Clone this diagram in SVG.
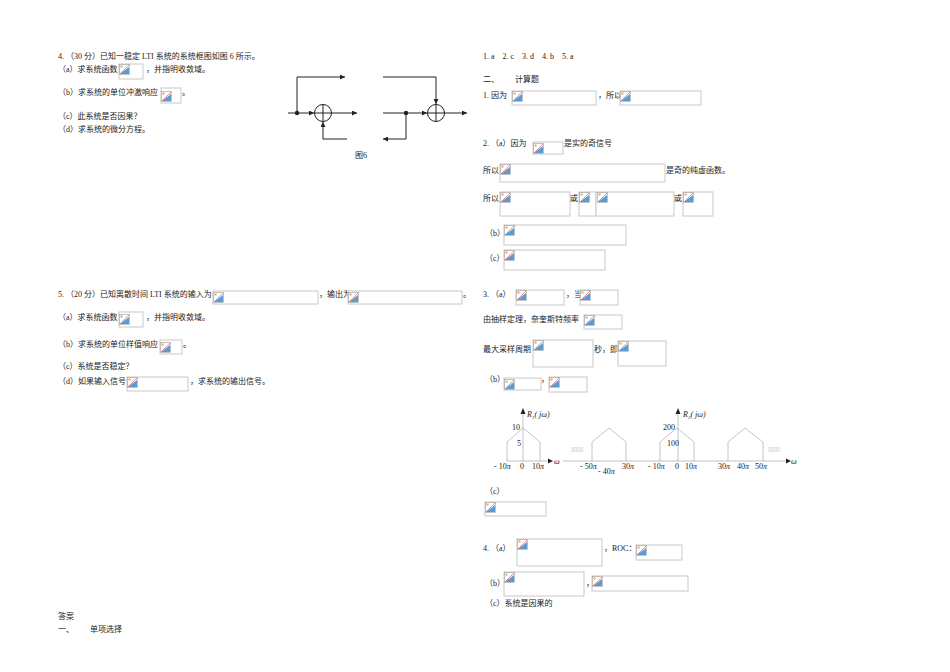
<svg xmlns="http://www.w3.org/2000/svg" width="950" height="672" viewBox="0 0 950 672">
<style>
text{font-family:"Liberation Serif","Noto Sans CJK SC",serif;font-size:8px;fill:#222}
.it{font-style:italic}
.b{fill:#fff;stroke:#c8c8c8;stroke-width:1}
.ln{stroke:#222;stroke-width:1;fill:none}
.sp{stroke:#aaa;stroke-width:0.7;fill:none}
.tofu{fill:#aaa;font-size:6px}
</style>
<defs>
<marker id="ar" viewBox="0 0 6 6" refX="6" refY="3" markerWidth="5" markerHeight="5" orient="auto"><path d="M0,0L6,3L0,6z" fill="#222"/></marker>
<g id="ic"><rect x="0.5" y="0.5" width="10" height="10" fill="#fff" stroke="#999" stroke-width="0.6"/><path d="M1,10 L10,3 L10,10z" fill="#5a9bd5"/><path d="M1,10 L10,1" stroke="#e07070" stroke-width="0.8"/><rect x="1.5" y="1.5" width="2" height="2" fill="#f0a050"/></g>
</defs>
<rect width="950" height="672" fill="#fff"/>

<g id="q4">
<text x="58" y="59">4. （30 分）已知一稳定 LTI 系统的系统框图如图 6 所示。</text>
<text x="58" y="72">（a）求系统函数</text><rect class="b" x="119" y="64" width="24" height="15"/><use href="#ic" x="119" y="64"/><text x="146" y="72">，并指明收敛域。</text>
<text x="58" y="95">（b）求系统的单位冲激响应</text><rect class="b" x="161" y="88" width="20" height="15"/><use href="#ic" x="161" y="91"/><text x="182" y="95">。</text>
<text x="58" y="119">（c）此系统是否因果？</text>
<text x="58" y="132">（d）求系统的微分方程。</text>
</g>

<g id="fig6">
<circle cx="323" cy="113" r="8.5" class="ln"/><path class="ln" d="M314.5,113H331.5M323,104.5V121.5"/>
<circle cx="436" cy="113" r="8.5" class="ln"/><path class="ln" d="M427.5,113H444.5M436,104.5V121.5"/>
<circle cx="297" cy="113" r="2.2" fill="#222"/><circle cx="406" cy="113" r="2.2" fill="#222"/>
<text x="355" y="158">图6</text>
</g>
<g id="connectors">
<path class="ln" d="M288,113H314" marker-end="url(#ar)"/>
<path class="ln" d="M297,113V77H345" marker-end="url(#ar)"/>
<path class="ln" d="M332,113H357" marker-end="url(#ar)"/>
<path class="ln" d="M347,139H323V122" marker-end="url(#ar)"/>
<path class="ln" d="M383,77H436V104" marker-end="url(#ar)"/>
<path class="ln" d="M383,113H427" marker-end="url(#ar)"/>
<path class="ln" d="M445,113H467" marker-end="url(#ar)"/>
<path class="ln" d="M406,113V139H383" marker-end="url(#ar)"/>
</g>

<g id="q5">
<text x="58" y="297">5. （20 分）已知离散时间 LTI 系统的输入为</text><rect class="b" x="213" y="291" width="105" height="13"/><use href="#ic" x="213" y="292"/>
<text x="319" y="297">，输出为</text><rect class="b" x="348" y="291" width="114" height="13"/><use href="#ic" x="348" y="292"/><text x="463" y="297">。</text>
<text x="58" y="320">（a）求系统函数</text><rect class="b" x="119" y="312" width="24" height="15"/><use href="#ic" x="119" y="314"/><text x="146" y="320">，并指明收敛域。</text>
<text x="58" y="347">（b）求系统的单位样值响应</text><rect class="b" x="160" y="340" width="22" height="14"/><use href="#ic" x="160" y="342"/><text x="183" y="347">。</text>
<text x="58" y="369">（c）系统是否稳定？</text>
<text x="58" y="384">（d）如果输入信号</text><rect class="b" x="127" y="377" width="61" height="14"/><use href="#ic" x="127" y="377"/><text x="190" y="384">，求系统的输出信号。</text>
<text x="58" y="619">答案</text>
<text x="58" y="632" xml:space="preserve">一、        单项选择</text>
</g>

<g id="ans">
<text x="483" y="59" xml:space="preserve">1. a    2. c    3. d    4. b    5. a</text>
<text x="483" y="82" xml:space="preserve">二、        计算题</text>
<text x="483" y="98">1. 因为</text><rect class="b" x="512" y="91" width="84" height="14"/><use href="#ic" x="512" y="91"/><text x="598" y="98">，所以</text><rect class="b" x="620" y="91" width="81" height="14"/><use href="#ic" x="620" y="91"/>
<text x="483" y="146">2. （a）因为</text><rect class="b" x="533" y="142" width="30" height="12"/><use href="#ic" x="533" y="143"/><text x="564" y="146">是实的奇信号</text>
<text x="483" y="173">所以</text><rect class="b" x="500" y="164" width="165" height="18"/><use href="#ic" x="500" y="164"/><text x="666" y="173">是奇的纯虚函数。</text>
<text x="483" y="201">所以</text><rect class="b" x="500" y="192" width="70" height="24"/><use href="#ic" x="500" y="192"/>
<text x="570" y="201">或</text><rect class="b" x="579" y="192" width="17" height="24"/><use href="#ic" x="579" y="192"/><rect class="b" x="596" y="192" width="78" height="24"/><use href="#ic" x="597" y="192"/>
<text x="674" y="201">或</text><rect class="b" x="683" y="192" width="30" height="24"/><use href="#ic" x="683" y="192"/>
<text x="485" y="236">（b）</text><rect class="b" x="504" y="225" width="122" height="20"/><use href="#ic" x="504" y="225"/>
<text x="485" y="261">（c）</text><rect class="b" x="504" y="250" width="101" height="20"/><use href="#ic" x="504" y="250"/>
<text x="483" y="297">3. （a）</text><rect class="b" x="516" y="290" width="48" height="15"/><use href="#ic" x="516" y="290"/><text x="566" y="297">，当</text><rect class="b" x="580" y="290" width="38" height="15"/><use href="#ic" x="580" y="290"/>
<text x="483" y="322">由抽样定理，奈奎斯特频率</text><rect class="b" x="584" y="315" width="38" height="14"/><use href="#ic" x="584" y="315"/>
<text x="483" y="352">最大采样周期</text><rect class="b" x="533" y="340" width="60" height="27"/><use href="#ic" x="533" y="340"/><text x="594" y="352">秒，即</text><rect class="b" x="618" y="341" width="48" height="25"/><use href="#ic" x="618" y="341"/>
<text x="485" y="382">（b）</text><rect class="b" x="504" y="378" width="37" height="12"/><use href="#ic" x="504" y="379"/><text x="541" y="382">，</text><rect class="b" x="549" y="377" width="38" height="15"/><use href="#ic" x="549" y="377"/>
<text x="485" y="494">（c）</text><rect class="b" x="485" y="502" width="61" height="14"/><use href="#ic" x="485" y="502"/>
<text x="483" y="551">4. （a）</text><rect class="b" x="517" y="539" width="85" height="27"/><use href="#ic" x="517" y="539"/><text x="604" y="551">，ROC：</text><rect class="b" x="636" y="545" width="46" height="15"/><use href="#ic" x="636" y="545"/>
<text x="485" y="586">（b）</text><rect class="b" x="504" y="572" width="80" height="24"/><use href="#ic" x="504" y="572"/><text x="586" y="586">，</text><rect class="b" x="592" y="576" width="96" height="15"/><use href="#ic" x="592" y="576"/>
<text x="485" y="606">（c）系统是因果的</text>
</g>

<g id="spectrum">
<path class="sp" d="M507,461H548M563,461H786"/>
<path d="M548,458.5L553,461L548,463.5z M786,458.5L791,461L786,463.5z" fill="#222"/>
<path class="sp" d="M523,461V414M678,461V414"/>
<path d="M520.5,414L523,408L525.5,414z M675.5,414L678,408L680.5,414z" fill="#222"/>
<path class="sp" d="M507,461V442L523,428L540,442V461M592,461V442L609,428L626,442V461M660,461V442L677,428L694,442V461M728,461V442L745,428L763,442V461"/>
<text x="527" y="417" class="it">R<tspan font-size="5" dy="2">1</tspan><tspan dy="-2">( jω)</tspan></text>
<text x="683" y="417" class="it">R<tspan font-size="5" dy="2">2</tspan><tspan dy="-2">( jω)</tspan></text>
<text x="512" y="430">10</text><text x="517" y="446">5</text>
<text x="663" y="430">200</text><text x="667" y="446">100</text>
<text x="554" y="464" class="it">ω</text><text x="791" y="464" class="it">ω</text>
<text x="494" y="469">- 10<tspan class="it">π</tspan></text><text x="520" y="469">0</text><text x="532" y="469">10<tspan class="it">π</tspan></text>
<text x="580" y="469">- 50<tspan class="it">π</tspan></text><text x="598" y="474">- 40<tspan class="it">π</tspan></text><text x="622" y="469">30<tspan class="it">π</tspan></text>
<text x="648" y="469">- 10<tspan class="it">π</tspan></text><text x="675" y="469">0</text><text x="685" y="469">10<tspan class="it">π</tspan></text>
<text x="718" y="469">30<tspan class="it">π</tspan></text><text x="737" y="469">40<tspan class="it">π</tspan></text><text x="755" y="469">50<tspan class="it">π</tspan></text>
<text x="571" y="451" class="tofu">▯▯▯▯</text><text x="768" y="451" class="tofu">▯▯▯▯</text>
</g>
</svg>
